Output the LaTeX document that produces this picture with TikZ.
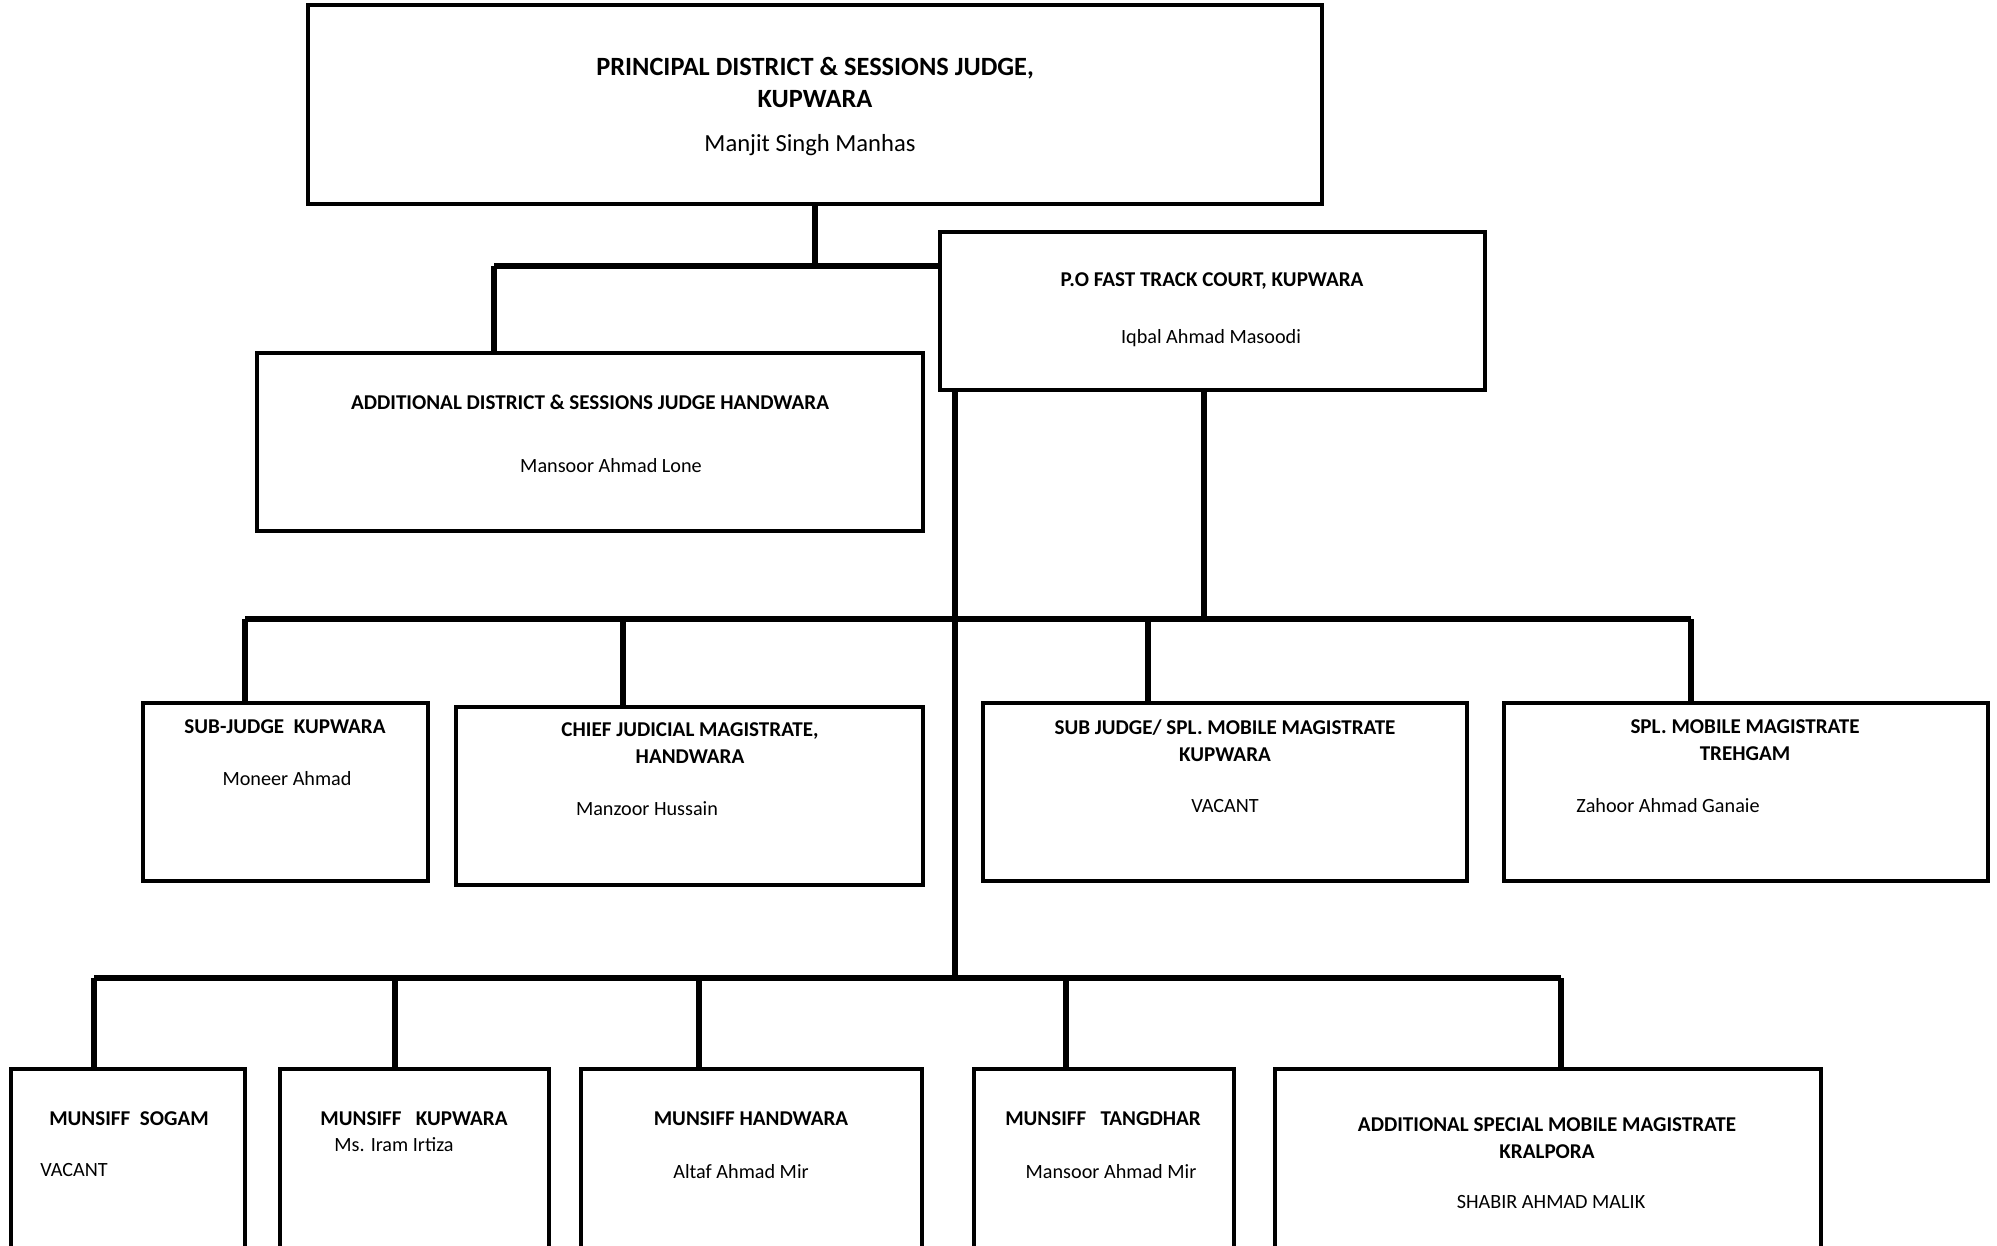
\documentclass[tikz,border=0pt]{standalone}
\usepackage{fontspec}
\setmainfont{Carlito}
\usetikzlibrary{positioning}

\tikzset{
  box/.style 2 args={draw, line width=1.8pt, minimum width=#1*0.02cm, minimum height=#2*0.02cm, inner sep=0pt},
  link/.style={line width=3pt},
  ttl/.style={font=\bfseries\fontsize{12}{15.3}\selectfont, align=center, inner sep=0pt},
  nm/.style={font=\fontsize{11.5}{14}\selectfont, inner sep=0pt},
}

\begin{document}
\begin{tikzpicture}[x=0.02cm,y=-0.02cm]
\useasboundingbox (0,0) rectangle (1997,1246);
\clip (0,0) rectangle (1997,1246);

% boxes
\node[box={1014}{199}] (top) at (815,104.5) {};
\node[box={545}{158}] (po) at (1212.5,311) {};
\node[box={666}{178}] (adsj) at (590,442) {};
\node[box={285}{178}] (sj) at (285.5,792) {};
\node[box={467}{178}] (cjm) at (689.5,796) {};
\node[box={484}{178}] (smm) at (1225,792) {};
\node[box={484}{178}] (treh) at (1746,792) {};
\node[box={234}{231}] (sogam) at (128,1184.5) {};
\node[box={269}{231}] (kup) at (414.5,1184.5) {};
\node[box={341}{231}] (hand) at (751.5,1184.5) {};
\node[box={260}{231}] (tang) at (1104,1184.5) {};
\node[box={546}{231}] (asmm) at (1548,1184.5) {};

% texts
\node[ttl, font=\bfseries\fontsize{15}{18.7}\selectfont] (top-t) at (815,82.5) {PRINCIPAL DISTRICT \& SESSIONS JUDGE,\\KUPWARA};
\node[nm, font=\fontsize{14}{16}\selectfont] (top-n) at (810,145) {Manjit Singh Manhas};
\node[ttl] (po-t) at (1212,281) {P.O FAST TRACK COURT, KUPWARA};
\node[nm] (po-n) at (1211,338) {Iqbal Ahmad Masoodi};
\node[ttl] (adsj-t) at (590,402) {ADDITIONAL DISTRICT \& SESSIONS JUDGE HANDWARA};
\node[nm] (adsj-n) at (611,466) {Mansoor Ahmad Lone};
\node[ttl] (sj-t) at (285,727) {SUB-JUDGE\ \ KUPWARA};
\node[nm] (sj-n) at (287,779) {Moneer Ahmad};
\node[ttl] (cjm-t) at (690,743.5) {CHIEF JUDICIAL MAGISTRATE,\\HANDWARA};
\node[nm] (cjm-n) at (647,809) {Manzoor Hussain};
\node[ttl] (smm-t) at (1225,740.5) {SUB JUDGE/ SPL. MOBILE MAGISTRATE\\KUPWARA};
\node[nm] (smm-n) at (1225,806) {VACANT};
\node[ttl] (treh-t) at (1745,740.5) {SPL. MOBILE MAGISTRATE\\TREHGAM};
\node[nm] (treh-n) at (1668,806) {Zahoor Ahmad Ganaie};
\node[ttl] (sogam-t) at (129,1119) {MUNSIFF\ \ SOGAM};
\node[nm] (sogam-n) at (74,1170) {VACANT};
\node[ttl] (kup-t) at (414,1119) {MUNSIFF\ \ \ KUPWARA};
\node[nm] (kup-n) at (394,1145) {Ms. Iram Irtiza};
\node[ttl] (hand-t) at (751,1119) {MUNSIFF HANDWARA};
\node[nm] (hand-n) at (741,1172) {Altaf Ahmad Mir};
\node[ttl] (tang-t) at (1103,1119) {MUNSIFF\ \ \ TANGDHAR};
\node[nm] (tang-n) at (1111,1172) {Mansoor Ahmad Mir};
\node[ttl] (asmm-t) at (1547,1138) {ADDITIONAL SPECIAL MOBILE MAGISTRATE\\KRALPORA};
\node[nm] (asmm-n) at (1551,1202) {SHABIR AHMAD MALIK};

% connectors
\coordinate (a1) at (494,266);
\draw[link] (top.south) -- (top.south |- a1);
\draw[link] (a1) -- (po.west |- a1);
\draw[link] (a1) -- (a1 |- adsj.north);

\coordinate (v1) at (955,978);
\coordinate (v2) at (1204,619);
\draw[link] (v1 |- po.south) -- (v1);
\draw[link] (v2 |- po.south) -- (v2);

\coordinate (b2l) at (245,619);
\coordinate (b2r) at (1691,619);
\draw[link] (b2l) -- (b2r);
\draw[link] (b2l) -- (b2l |- sj.north);
\coordinate (d2) at (623,619);
\draw[link] (d2) -- (d2 |- cjm.north);
\coordinate (d3) at (1148,619);
\draw[link] (d3) -- (d3 |- smm.north);
\draw[link] (b2r) -- (b2r |- treh.north);

\coordinate (b3l) at (94,978);
\coordinate (b3r) at (1561,978);
\draw[link] (b3l) -- (b3r);
\draw[link] (b3l) -- (b3l |- sogam.north);
\coordinate (e2) at (395,978);
\draw[link] (e2) -- (e2 |- kup.north);
\coordinate (e3) at (699,978);
\draw[link] (e3) -- (e3 |- hand.north);
\coordinate (e4) at (1066,978);
\draw[link] (e4) -- (e4 |- tang.north);
\draw[link] (b3r) -- (b3r |- asmm.north);
\end{tikzpicture}
\end{document}
